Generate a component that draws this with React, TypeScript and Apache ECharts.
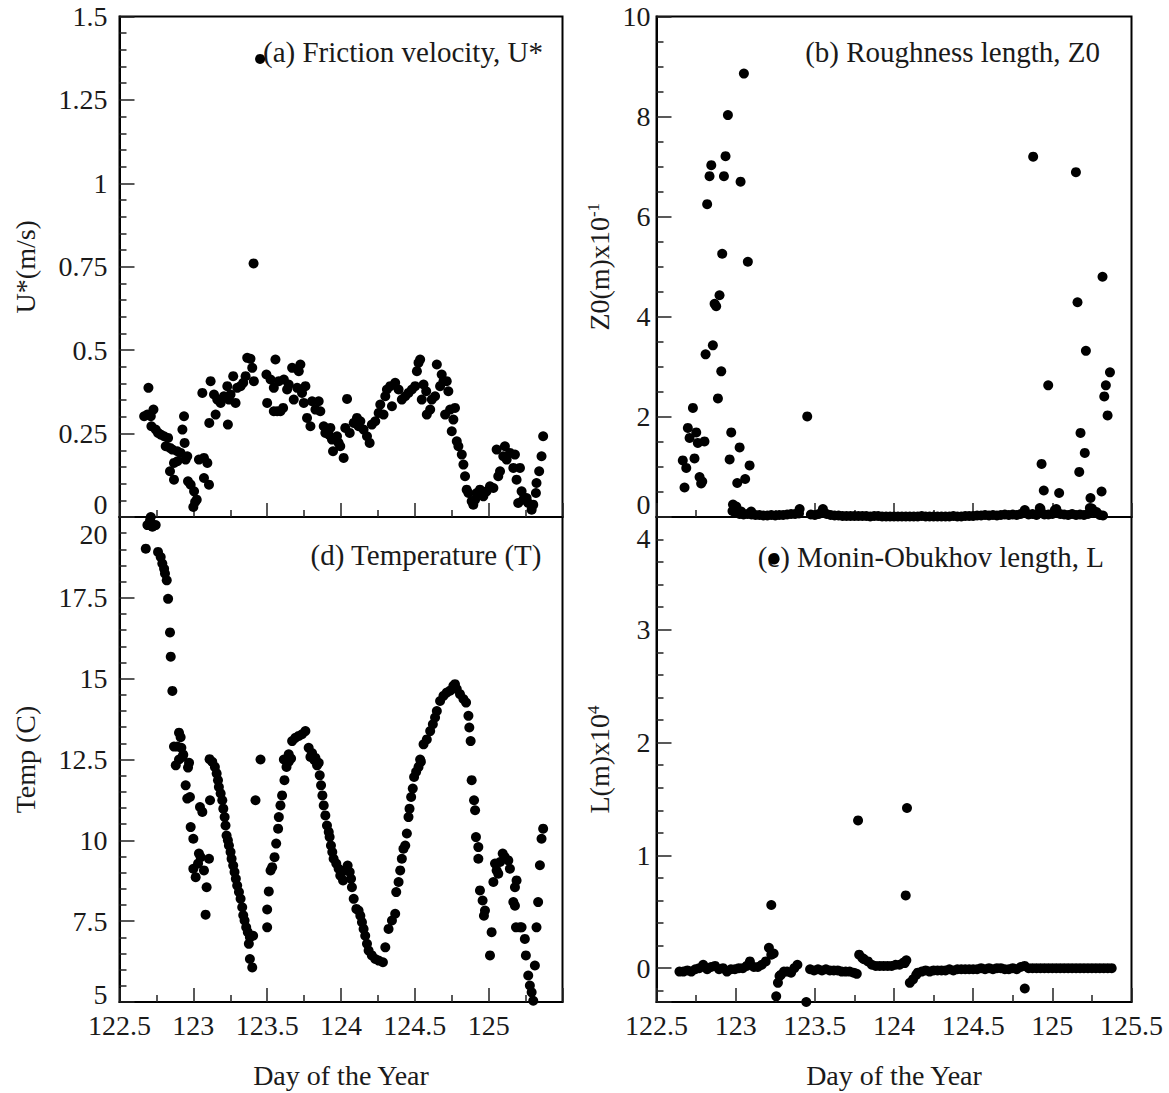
import React, { useEffect, useRef } from "react";
import * as echarts from "echarts";

const FONT = "'Liberation Serif', 'Times New Roman', serif";
const INK = "#1a1a1a";

// x axis (Day of the Year)
const dayMin = 122.5;
const dayMax = 125.5;
const dayStep = 0.5;

// (a) Friction velocity U* [day, m/s]
const uStar: number[][] = [
  [122.667,0.302],[122.696,0.387],[122.689,0.307],[122.712,0.302],[122.73,0.322],[122.716,0.272],[122.745,0.262],
  [122.761,0.252],[122.779,0.247],[122.802,0.242],[122.829,0.237],[122.813,0.212],[122.842,0.207],[122.858,0.202],
  [122.892,0.197],[122.842,0.137],[122.869,0.112],[122.869,0.162],[122.892,0.167],[122.914,0.192],[122.941,0.222],
  [122.926,0.262],[122.937,0.302],[122.959,0.182],[122.948,0.172],[122.964,0.107],[122.982,0.097],[123.005,0.077],
  [123.023,0.052],[123.0,0.03],[123.012,0.045],[123.038,0.172],[123.072,0.177],[123.095,0.162],[123.072,0.117],
  [123.106,0.097],[123.061,0.372],[123.108,0.282],[123.117,0.407],[123.14,0.367],[123.162,0.352],[123.185,0.342],
  [123.151,0.307],[123.207,0.362],[123.23,0.392],[123.241,0.352],[123.252,0.367],[123.234,0.277],[123.27,0.422],
  [123.286,0.342],[123.297,0.387],[123.32,0.392],[123.338,0.402],[123.354,0.422],[123.365,0.477],[123.387,0.474],
  [123.399,0.447],[123.41,0.407],[123.408,0.76],[123.452,1.373],[123.495,0.427],[123.5,0.342],[123.523,0.412],
  [123.545,0.387],[123.556,0.472],[123.545,0.317],[123.568,0.317],[123.59,0.317],[123.608,0.327],[123.579,0.407],
  [123.613,0.412],[123.635,0.382],[123.646,0.397],[123.669,0.447],[123.68,0.352],[123.703,0.387],[123.714,0.437],
  [123.725,0.457],[123.736,0.372],[123.759,0.392],[123.748,0.342],[123.77,0.297],[123.793,0.272],[123.804,0.347],
  [123.827,0.322],[123.849,0.347],[123.86,0.317],[123.883,0.272],[123.894,0.252],[123.917,0.247],[123.928,0.267],
  [123.939,0.232],[123.946,0.197],[123.973,0.242],[123.984,0.222],[123.995,0.212],[124.018,0.177],[124.029,0.267],
  [124.041,0.354],[124.059,0.252],[124.086,0.282],[124.108,0.297],[124.119,0.272],[124.131,0.287],[124.153,0.262],
  [124.176,0.242],[124.194,0.222],[124.209,0.277],[124.232,0.287],[124.255,0.312],[124.266,0.337],[124.288,0.307],
  [124.3,0.362],[124.311,0.382],[124.333,0.392],[124.345,0.332],[124.367,0.402],[124.39,0.382],[124.412,0.352],
  [124.435,0.362],[124.457,0.372],[124.48,0.382],[124.502,0.392],[124.514,0.437],[124.525,0.462],[124.536,0.472],
  [124.547,0.352],[124.559,0.397],[124.577,0.377],[124.581,0.307],[124.604,0.322],[124.615,0.352],[124.637,0.362],
  [124.649,0.457],[124.671,0.392],[124.682,0.427],[124.694,0.407],[124.716,0.407],[124.727,0.377],[124.705,0.307],
  [124.739,0.322],[124.761,0.292],[124.772,0.327],[124.75,0.257],[124.784,0.227],[124.795,0.212],[124.818,0.187],
  [124.829,0.157],[124.84,0.122],[124.851,0.082],[124.863,0.072],[124.885,0.047],[124.896,0.037],[124.908,0.052],
  [124.919,0.072],[124.941,0.082],[124.964,0.062],[124.986,0.077],[125.009,0.092],[125.032,0.087],[125.054,0.202],
  [125.065,0.122],[125.077,0.137],[125.099,0.182],[125.11,0.212],[125.122,0.172],[125.144,0.192],[125.167,0.147],
  [125.178,0.187],[125.189,0.112],[125.212,0.147],[125.223,0.077],[125.2,0.042],[125.234,0.052],[125.257,0.057],
  [125.268,0.042],[125.291,0.022],[125.302,0.037],[125.32,0.072],[125.324,0.102],[125.342,0.137],[125.358,0.182],
  [125.369,0.242],
];

// (b) Roughness length Z0 x10^-1 [day, value]
const z0Points: number[][] = [
  [123.052,8.86],[122.951,8.03],[122.936,7.21],[122.846,7.03],[122.835,6.81],[122.926,6.81],[123.031,6.7],
  [122.82,6.25],[122.915,5.26],[123.077,5.1],[122.898,4.43],[122.867,4.26],[122.877,4.21],[122.856,3.43],
  [122.81,3.25],[122.909,2.91],[122.888,2.37],[122.73,2.18],[122.698,1.78],[122.751,1.69],[122.709,1.58],
  [122.761,1.48],[122.803,1.51],[122.972,1.69],[123.025,1.39],[122.74,1.17],[122.666,1.13],[122.688,0.98],
  [122.962,1.15],[123.088,1.03],[122.772,0.8],[122.789,0.71],[122.782,0.67],[122.677,0.59],[123.01,0.68],
  [123.06,0.76],[123.452,2.01],[122.983,0.25],[123.004,0.21],[123.035,0.11],[123.098,0.11],[123.404,0.16],
  [123.551,0.16],
  [124.879,7.2],[125.149,6.89],[125.317,4.8],[125.159,4.29],[125.212,3.32],[125.364,2.89],[125.338,2.63],
  [125.328,2.41],[125.349,2.03],[124.974,2.63],[125.178,1.68],[125.205,1.28],[125.17,0.9],[124.932,1.06],
  [124.946,0.53],[125.043,0.48],[125.311,0.51],[125.241,0.38],[124.826,0.14],[124.921,0.18],[125.016,0.14],
  [125.237,0.18],[125.279,0.1],
];
const z0Baseline: number[][] = [
  [122.98,0.12],[123.0,0.08],[123.025,0.06],[123.05,0.05],[123.075,0.06],[123.1,0.05],[123.125,0.04],
  [123.15,0.04],[123.175,0.03],[123.2,0.03],[123.225,0.04],[123.25,0.03],[123.275,0.04],[123.3,0.04],
  [123.325,0.05],[123.35,0.06],[123.375,0.06],[123.4,0.07],[123.475,0.05],[123.5,0.04],[123.525,0.06],
  [123.55,0.12],[123.575,0.06],[123.6,0.04],[123.625,0.03],[123.65,0.03],[123.675,0.02],[123.7,0.02],
  [123.725,0.02],[123.75,0.02],[123.775,0.02],[123.8,0.02],[123.825,0.02],[123.85,0.01],[123.875,0.02],
  [123.9,0.02],[123.925,0.01],[123.95,0.01],[123.975,0.01],[124.0,0.01],[124.025,0.01],[124.05,0.01],
  [124.075,0.01],[124.1,0.01],[124.125,0.01],[124.15,0.01],[124.175,0.02],[124.2,0.01],[124.225,0.01],
  [124.25,0.01],[124.275,0.01],[124.3,0.01],[124.325,0.01],[124.35,0.01],[124.375,0.02],[124.4,0.01],
  [124.425,0.01],[124.45,0.02],[124.475,0.02],[124.5,0.02],[124.525,0.03],[124.55,0.03],[124.575,0.04],
  [124.6,0.03],[124.625,0.04],[124.65,0.03],[124.675,0.04],[124.7,0.05],[124.725,0.04],[124.75,0.05],
  [124.775,0.04],[124.8,0.06],[124.825,0.1],[124.85,0.05],[124.875,0.06],[124.9,0.04],[124.925,0.16],
  [124.95,0.05],[124.975,0.05],[125.0,0.06],[125.025,0.16],[125.05,0.06],[125.075,0.05],[125.1,0.04],
  [125.125,0.06],[125.15,0.04],[125.175,0.05],[125.2,0.04],[125.225,0.06],[125.25,0.17],[125.275,0.08],
  [125.3,0.04],[125.32,0.03],
];

// (d) Temperature [day, C]
const temperature: number[][] = [
  [122.678,19.02],[122.689,19.75],[122.707,19.9],[122.723,19.7],[122.745,19.75],[122.712,20.0],
  [122.761,18.92],[122.779,18.76],[122.79,18.56],[122.802,18.4],[122.808,18.25],[122.82,18.04],
  [122.829,17.47],[122.842,16.43],[122.847,15.68],[122.858,14.62],
  [122.903,13.33],[122.914,13.19],[122.869,12.9],[122.892,12.9],[122.919,12.86],[122.932,12.65],[122.903,12.5],
  [122.971,12.4],[122.881,12.32],[122.926,12.58],[122.964,12.25],[122.948,11.7],[122.959,11.29],[122.977,11.34],
  [122.982,10.41],[123.0,10.05],[123.0,9.12],[123.016,8.86],[123.032,9.28],[123.038,9.59],[123.05,9.48],
  [123.072,9.07],[123.106,9.43],[123.09,8.55],[123.045,11.03],[123.061,10.88],[123.113,11.24],[123.083,7.7],
  [123.11,12.51],[123.128,12.43],[123.146,12.27],[123.158,12.07],[123.167,11.86],[123.173,11.65],[123.185,11.45],
  [123.196,11.24],[123.203,10.98],[123.212,10.72],[123.218,10.46],[123.225,10.15],[123.234,10.0],[123.241,9.84],
  [123.252,9.64],[123.259,9.43],[123.27,9.22],[123.279,9.02],[123.288,8.81],[123.297,8.6],[123.309,8.4],
  [123.32,8.19],[123.331,7.93],[123.338,7.68],[123.347,7.52],[123.358,7.31],[123.369,7.16],[123.383,7.0],
  [123.405,7.05],[123.376,6.8],[123.383,6.33],[123.399,6.07],[123.421,11.24],[123.455,12.5],
  [123.5,7.31],[123.5,7.86],[123.511,8.42],[123.523,9.07],[123.534,9.17],[123.55,9.48],[123.561,9.9],
  [123.574,10.36],[123.579,10.72],[123.59,11.08],[123.601,11.39],[123.617,11.86],[123.631,12.27],[123.646,12.43],
  [123.662,12.53],[123.613,12.5],[123.646,12.66],[123.669,13.07],[123.691,13.17],[123.714,13.23],[123.736,13.28],
  [123.759,13.38],[123.781,12.86],[123.804,12.7],[123.827,12.55],[123.849,12.4],
  [123.793,12.58],[123.82,12.48],[123.838,12.32],[123.856,12.01],[123.865,11.7],[123.874,11.39],[123.883,11.08],
  [123.894,10.77],[123.905,10.46],[123.917,10.26],[123.923,10.1],[123.932,9.84],[123.941,9.64],[123.95,9.43],
  [123.968,9.28],[123.984,9.12],[123.995,8.91],[124.014,8.76],[124.029,9.07],[124.045,9.22],[124.059,9.02],
  [124.068,8.81],[124.074,8.55],[124.086,8.19],[124.104,7.88],[124.119,7.83],[124.131,7.67],[124.142,7.47],
  [124.153,7.26],[124.164,7.05],[124.176,6.8],[124.187,6.59],[124.209,6.44],[124.232,6.33],[124.255,6.28],
  [124.284,6.23],
  [124.3,6.69],[124.322,7.26],[124.345,7.52],[124.367,7.73],[124.374,8.4],[124.39,8.71],[124.401,9.07],
  [124.412,9.43],[124.423,9.74],[124.435,9.84],[124.446,10.21],[124.457,10.72],[124.464,10.98],[124.475,11.34],
  [124.486,11.6],[124.495,11.96],[124.509,12.12],[124.525,12.27],[124.541,12.43],[124.536,12.5],
  [124.559,12.97],[124.581,13.12],[124.604,13.38],[124.622,13.59],[124.637,13.8],[124.649,14.0],[124.671,14.31],
  [124.694,14.47],[124.716,14.57],[124.739,14.63],[124.761,14.78],[124.772,14.83],[124.784,14.68],[124.806,14.52],
  [124.829,14.37],[124.847,14.26],[124.863,13.85],[124.869,13.49],[124.878,13.07],
  [124.885,11.86],[124.901,11.24],[124.908,10.93],[124.914,10.1],[124.93,9.79],[124.93,9.43],[124.941,8.45],
  [124.959,8.14],[124.975,7.83],[124.968,7.67],[125.02,7.16],[125.009,6.44],[125.032,8.71],[125.043,9.28],
  [125.054,9.07],[125.065,8.97],[125.077,9.33],[125.095,9.59],[125.11,9.48],[125.133,9.38],[125.144,9.12],
  [125.178,8.55],[125.189,8.76],[125.167,8.09],[125.178,7.98],[125.185,7.31],[125.212,7.31],[125.223,7.31],
  [125.245,6.95],[125.252,6.44],[125.268,5.82],[125.279,5.51],[125.291,5.3],[125.302,5.04],[125.313,6.13],
  [125.324,7.31],[125.335,8.09],[125.347,9.23],[125.358,10.05],[125.369,10.36],
];

// (e) Monin-Obukhov length L x10^4 [day, value]
const lPoints: number[][] = [
  [123.225,0.56],[123.773,1.31],[124.082,1.42],[124.074,0.645],[123.21,0.18],[123.225,0.12],[123.24,0.13],
  [123.256,-0.25],[123.267,-0.13],[123.277,-0.07],[123.446,-0.3],[124.826,-0.18],[123.78,0.12],[123.8,0.09],
  [123.836,0.06],[124.078,0.07],[124.068,0.045],[124.1,-0.13],[124.12,-0.1],[124.14,-0.06],
];
const lBaseline: number[][] = [
  [122.645,-0.03],[122.67,-0.03],[122.695,-0.02],[122.72,-0.03],[122.745,-0.01],[122.77,0.0],[122.795,0.03],
  [122.82,-0.01],[122.845,0.01],[122.87,0.02],[122.895,-0.01],[122.92,0.0],[122.945,-0.03],[122.97,-0.01],
  [122.995,-0.01],[123.02,0.0],[123.045,0.0],[123.07,0.02],[123.09,0.06],[123.115,0.01],[123.14,0.01],
  [123.165,0.03],[123.19,0.06],
  [123.285,-0.06],[123.305,-0.03],[123.325,-0.03],[123.35,-0.04],[123.37,0.0],[123.39,0.03],
  [123.47,-0.01],[123.495,-0.02],[123.52,-0.01],[123.545,-0.02],[123.57,-0.01],[123.595,-0.02],[123.62,-0.02],
  [123.645,-0.02],[123.67,-0.03],[123.695,-0.03],[123.72,-0.03],[123.745,-0.04],[123.765,-0.05],
  [123.81,0.08],[123.86,0.03],[123.885,0.02],[123.91,0.02],[123.935,0.02],[123.96,0.02],[123.985,0.02],
  [124.01,0.03],[124.035,0.03],[124.06,0.05],
  [124.15,-0.04],[124.175,-0.03],[124.2,-0.02],[124.225,-0.03],[124.25,-0.02],[124.275,-0.02],[124.3,-0.02],
  [124.325,-0.02],[124.35,-0.01],[124.375,-0.02],[124.4,-0.01],[124.425,-0.01],[124.45,-0.01],[124.475,-0.01],
  [124.5,-0.01],[124.525,-0.01],[124.55,0.0],[124.575,-0.01],[124.6,0.0],[124.625,-0.01],[124.65,0.0],
  [124.675,0.0],[124.7,-0.01],[124.725,-0.01],[124.75,0.0],[124.775,-0.01],[124.8,0.01],[124.825,0.02],
  [124.85,0.0],[124.875,0.0],[124.9,0.0],[124.925,0.0],[124.95,0.0],[124.975,0.0],[125.0,0.0],[125.025,0.0],
  [125.05,0.0],[125.075,0.0],[125.1,0.0],[125.125,0.0],[125.15,0.0],[125.175,0.0],[125.2,0.0],[125.225,0.0],
  [125.25,0.0],[125.275,0.0],[125.3,0.0],[125.325,0.0],[125.35,0.0],[125.375,0.0],
];

const titles = [
  "(a) Friction velocity, U*",
  "(b) Roughness length, Z0",
  "(d) Temperature (T)",
  "(e) Monin-Obukhov length, L",
];

const baseText = { fontSize: 28, fontFamily: FONT, color: INK };
const tickText = { ...baseText, lineHeight: 20 };

function xAxis(gridIndex: number, bottom: boolean, showMax: boolean) {
  return {
    type: "value",
    gridIndex,
    min: dayMin,
    max: dayMax,
    interval: dayStep,
    axisLine: { show: true, onZero: false, lineStyle: { color: "#000", width: 2 } },
    axisTick: { show: true, inside: true, length: 14, lineStyle: { color: "#222", width: 1.5 } },
    minorTick: { show: true, splitNumber: 2, length: 7, lineStyle: { color: "#222", width: 1.5 } },
    splitLine: { show: false },
    axisLabel: { show: bottom, margin: 13, ...tickText, showMinLabel: true, showMaxLabel: showMax },
    name: bottom ? "Day of the Year" : "",
    nameLocation: "middle",
    nameGap: 59,
    nameTextStyle: { ...baseText },
  };
}

function yAxis(gridIndex: number, cfg: any) {
  const { shiftMin, shiftMax, name, nameGap, minorSplit, showMinLabel, ...rest } = cfg;
  return {
    type: "value",
    gridIndex,
    ...rest,
    axisLine: { show: true, onZero: false, lineStyle: { color: "#000", width: 2 } },
    axisTick: { show: true, inside: true, length: 15, lineStyle: { color: "#222", width: 1.5 } },
    minorTick: { show: true, splitNumber: minorSplit, length: 7, lineStyle: { color: "#222", width: 1.5 } },
    splitLine: { show: false },
    axisLabel: {
      margin: gridIndex % 2 === 0 ? 12 : 6,
      ...tickText,
      showMinLabel: showMinLabel !== false,
      formatter: (v: number) => {
        if (shiftMin != null && v === cfg.min) return `{lo|${v}}`;
        if (shiftMax != null && v === cfg.max) return `{hi|${v}}`;
        return `{n|${v}}`;
      },
      rich: {
        n: { ...tickText },
        lo: { ...tickText, padding: [0, 0, shiftMin || 0, 0] },
        hi: { ...tickText, padding: [shiftMax || 0, 0, 0, 0] },
      },
    },
    name,
    nameLocation: "middle",
    nameGap,
    nameTextStyle: {
      ...baseText,
      rich: {
        sup: { fontSize: 17, fontFamily: FONT, color: INK, verticalAlign: "top", lineHeight: 30 },
      },
    },
  };
}

function dots(i: number, data: number[][]) {
  return {
    type: "scatter",
    xAxisIndex: i,
    yAxisIndex: i,
    data,
    symbol: "circle",
    symbolSize: 10,
    itemStyle: { color: "#000", opacity: 1 },
    silent: true,
  };
}

export default function App() {
  const ref = useRef<HTMLDivElement>(null);
  useEffect(() => {
    if (!ref.current) return;
    const chart = echarts.init(ref.current, null, { renderer: "svg" });
    const gridBase = { show: true, borderColor: "#000", borderWidth: 2, backgroundColor: "transparent", containLabel: false };
    chart.setOption({
      animation: false,
      backgroundColor: "#fff",
      grid: [
        { ...gridBase, left: 119.5, top: 16.5, width: 443, height: 500.5 },
        { ...gridBase, left: 656.5, top: 16.5, width: 475, height: 500.5 },
        { ...gridBase, left: 119.5, top: 517, width: 443, height: 485 },
        { ...gridBase, left: 656.5, top: 517, width: 475, height: 485 },
      ],
      xAxis: [xAxis(0, false, false), xAxis(1, false, false), xAxis(2, true, false), xAxis(3, true, true)],
      yAxis: [
        yAxis(0, { min: 0, max: 1.5, interval: 0.25, minorSplit: 5, shiftMin: 25, name: "U*(m/s)", nameGap: 80 }),
        yAxis(1, { min: 0, max: 10, interval: 2, minorSplit: 4, shiftMin: 25, name: "Z0(m)x10{sup|-1}", nameGap: 42 }),
        yAxis(2, { min: 5, max: 20, interval: 2.5, minorSplit: 5, shiftMin: 16, shiftMax: 34, name: "Temp (C)", nameGap: 80 }),
        yAxis(3, { min: -0.3, max: 4, minorSplit: 5, shiftMax: 42, showMinLabel: false, name: "L(m)x10{sup|4}", nameGap: 42 }),
      ],
      series: [
        dots(0, uStar),
        dots(1, z0Baseline),
        dots(1, z0Points),
        dots(2, temperature),
        dots(3, lBaseline),
        dots(3, lPoints),
      ],
      graphic: [
        { type: "text", x: 543, y: 52, style: { text: titles[0], fontSize: 29, fontFamily: FONT, fill: INK, align: "right", verticalAlign: "middle" } },
        { type: "text", x: 1100, y: 52, style: { text: titles[1], fontSize: 29, fontFamily: FONT, fill: INK, align: "right", verticalAlign: "middle" } },
        { type: "text", x: 541.5, y: 555, style: { text: titles[2], fontSize: 29, fontFamily: FONT, fill: INK, align: "right", verticalAlign: "middle" } },
        { type: "text", x: 1104, y: 557, style: { text: titles[3], fontSize: 29, fontFamily: FONT, fill: INK, align: "right", verticalAlign: "middle" } },
        { type: "circle", shape: { cx: 774, cy: 559, r: 5.5 }, style: { fill: "#000" } },
      ],
    });
    return () => chart.dispose();
  }, []);
  return (
    <div
      ref={ref}
      style={{ position: "absolute", left: 0, top: 0, width: 1169, height: 1093, background: "#fff" }}
    />
  );
}
